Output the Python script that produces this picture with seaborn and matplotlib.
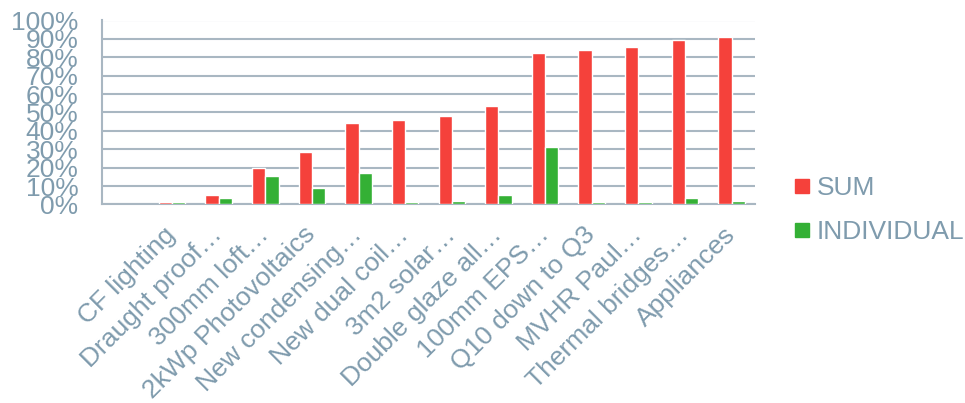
import numpy as np
import pandas as pd
import matplotlib
matplotlib.use('Agg')
import matplotlib.pyplot as plt
import seaborn as sns
from matplotlib.lines import Line2D

# ============================================================
# Data
# ============================================================
measures = ['', 'CF lighting', 'Draught proof\u2026', '300mm loft\u2026', '2kWp Photovoltaics',
            'New condensing\u2026', 'New dual coil\u2026', '3m2 solar\u2026', 'Double glaze all\u2026',
            '100mm EPS\u2026', 'Q10 down to Q3', 'MVHR Paul\u2026', 'Thermal bridges\u2026', 'Appliances']
sum_pct = [np.nan, 1.3, 5.1, 19.7, 28.4, 44.4, 45.8, 47.9, 53.4, 82.2, 83.9, 85.5, 89.3, 91.3]
individual_pct = [np.nan, 1.3, 3.8, 15.7, 9.2, 17.3, 1.1, 1.8, 5.4, 31.2, 1.3, 1.3, 3.6, 1.8]
series = ['SUM', 'INDIVIDUAL']
colors = ['#F5413B', '#34B035']

df = pd.DataFrame({
    'measure': measures * 2,
    'series': [series[0]] * len(measures) + [series[1]] * len(measures),
    'pct': sum_pct + individual_pct,
})

TXT = '#7F9BAD'
GRID = '#A9B7C2'
FS = 19

sns.set_style('white')
plt.rcParams['font.family'] = ['Liberation Sans', 'DejaVu Sans']

fig = plt.figure(figsize=(9.65, 4.03), dpi=100)
ax = fig.add_axes([102 / 965, 1 - 204.5 / 403, (755 - 102) / 965, (204.5 - 20.5) / 403])

sns.barplot(data=df, x='measure', y='pct', hue='series', order=measures,
            hue_order=series, palette=colors, width=0.57, saturation=1,
            errorbar=None, legend=False, ax=ax, zorder=3)

n = len(measures)
ax.set_xlim(-0.5, n - 0.5)
ax.set_ylim(0, 100)
ax.set_yticks(np.arange(0, 101, 10))
ax.set_yticklabels([f'{v}%' for v in range(0, 101, 10)])
ax.yaxis.grid(True, color=GRID, linewidth=1.5)
ax.set_axisbelow(True)

# labels at centres, tick marks at category boundaries
ax.set_xticks(np.arange(n))
ax.set_xticklabels(measures, rotation=45, ha='right', va='center', rotation_mode='anchor')
ax.set_xticks(np.arange(n + 1) - 0.5, minor=True)
ax.tick_params(axis='x', which='major', length=0, pad=19, labelsize=FS, labelcolor=TXT)
ax.tick_params(axis='x', which='minor', length=5, width=1.5, color=GRID)
ax.tick_params(axis='y', length=5, width=1.5, color=GRID, pad=12, labelsize=FS, labelcolor=TXT)

ax.set_xlabel('')
ax.set_ylabel('')
for s in ['top', 'right']:
    ax.spines[s].set_visible(False)
for s in ['left', 'bottom']:
    ax.spines[s].set_color(GRID)
    ax.spines[s].set_linewidth(1.5)

handles = [Line2D([], [], marker='s', linestyle='', markersize=10, color=c) for c in colors]
leg = fig.legend(handles, series, loc='center left', bbox_to_anchor=(768 / 965, 1 - 210 / 403),
                 frameon=False, fontsize=FS, labelcolor=TXT, handlelength=0.8,
                 handletextpad=0.15, labelspacing=0.75)

fig.savefig('out.png', dpi=100)
